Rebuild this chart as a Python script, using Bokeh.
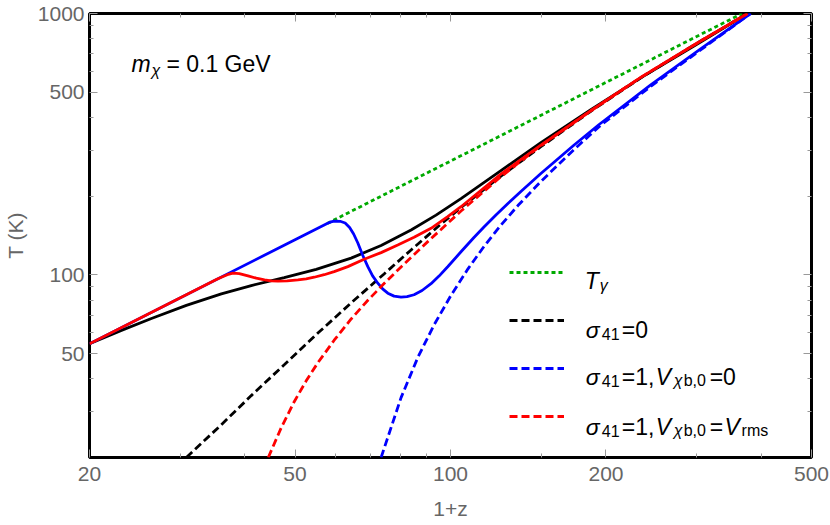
import math
from bokeh.plotting import figure
from bokeh.models import (FixedTicker, LogAxis, Label, Legend, LegendItem,
                          PrintfTickFormatter, Range1d)
from bokeh.embed import file_html
from bokeh.resources import INLINE

# ---------------- data ----------------
x_tgamma = [57.7, 367.0]
y_tgamma = [157.2, 1000.0]

# sigma41 = 0 : baryon (solid) and dark matter (dashed)
x_s0_b = [20, 23.06, 26.36, 30.80, 36.00, 41.14, 47.65, 54.95, 64.21, 73.39, 83.88, 93.75,
          104.79, 125.21, 149.62, 186.92, 233.54, 298.32, 376.0]
y_s0_b = [54.5, 61.3, 68.1, 76.4, 84.6, 91.0, 97.5, 105.0, 115.9, 129.4, 148.5, 169.3,
          195.8, 250.4, 320.3, 428.1, 567.2, 758.1, 1000]
x_s0_c = [30.80, 36.00, 41.14, 47.65, 55.44, 64.21, 74.37, 83.88, 95.86, 104.79, 125.21,
          149.62, 186.92, 233.54, 298.32, 376.0]
y_s0_c = [20.0, 26.7, 34.5, 45.3, 60.0, 78.1, 100.8, 124.5, 156.5, 180.9, 238.6,
          309.2, 422.5, 567.2, 764.8, 1000]

# sigma41 = 1, V_chi b,0 = 0
x_s1v0_b = [20, 57.70, 58.70, 59.53, 61.14, 62.52, 63.78, 64.93, 66.16, 67.58, 69.17, 70.66,
            72.32, 73.88, 75.61, 77.76, 80.22, 82.39, 85.00, 88.09, 91.69, 95.01, 98.76,
            104.79, 111.02, 116.09, 122.45, 129.18, 136.87, 149.62, 173.29, 193.70,
            244.17, 305.03, 381.1]
y_s1v0_b = [54.5, 157.2, 159.5, 160.6, 160.3, 157.9, 151.7, 143.3, 132.4, 119.1, 107.5, 99.1,
            92.9, 88.4, 85.1, 82.9, 82.1, 82.5, 83.9, 87.1, 92.5, 98.9, 107.4,
            122.5, 139.0, 152.4, 169.3, 187.4, 208.4, 244.1, 313.3, 375.2,
            533.4, 731.9, 1000]
x_s1v0_c = [73.39, 80.22, 86.53, 92.92, 100.23, 108.11, 116.09, 125.21, 135.06, 149.62,
            173.29, 195.43, 244.17, 305.03, 381.1]
y_s1v0_c = [20.0, 33.9, 48.5, 64.3, 83.5, 105.4, 128.3, 155.0, 184.1, 227.6,
            301.2, 373.6, 526.4, 725.5, 1000]

# sigma41 = 1, V_chi b,0 = V_rms
x_s1vr_b = [20, 35.21, 36.00, 36.97, 37.92, 39.00, 40.54, 42.07, 43.65, 44.97, 46.33, 48.29,
            50.65, 52.55, 54.46, 56.94, 59.53, 63.28, 68.04, 73.39, 79.05, 85.00, 91.69,
            98.76, 104.79, 125.21, 149.62, 186.92, 233.54, 298.32, 376.0]
y_s1vr_b = [54.5, 95.9, 97.9, 100.1, 101.5, 101.1, 99.1, 97.1, 95.6, 94.8, 94.6, 94.8,
            95.6, 96.5, 97.9, 100.1, 102.9, 107.5, 114.7, 121.6, 130.1, 139.2, 150.7,
            166.9, 182.2, 242.8, 313.3, 424.4, 569.7, 764.8, 1000]
x_s1vr_c = [44.38, 47.02, 49.82, 52.55, 55.44, 59.53, 64.21, 69.26, 74.37, 80.22, 90.47,
            104.79, 125.21, 149.62, 186.92, 233.54, 298.32, 376.0]
y_s1vr_c = [20.0, 26.0, 32.7, 39.3, 46.3, 56.2, 67.8, 80.1, 92.6, 107.2, 134.3,
            175.4, 237.4, 312.3, 424.4, 569.7, 764.8, 1000]

x_major = [20, 50, 100, 200, 500]
x_minor = [30, 40, 60, 70, 80, 90, 150, 300, 400]
y_major = [50, 100, 500, 1000]
y_minor = [30, 40, 60, 70, 80, 90, 200, 300, 400, 600, 700, 800, 900]

X0, X1, Y0, Y1 = 20, 500, 20, 1000

# ---------------- figure ----------------
FONT = "Liberation Sans"
p = figure(width=830, height=522, x_axis_type="log", y_axis_type="log",
           x_range=Range1d(X0, X1), y_range=Range1d(Y0, Y1),
           output_backend="svg", toolbar_location=None,
           min_border_left=88, min_border_right=19, min_border_top=13, min_border_bottom=64)
p.xgrid.visible = False
p.ygrid.visible = False
p.outline_line_color = "black"
p.outline_line_width = 3
p.outline_line_alpha = 1.0
p.background_fill_color = "white"


def style_axis(ax, major, minor, show):
    ax.ticker = FixedTicker(ticks=major, minor_ticks=minor)
    ax.formatter = PrintfTickFormatter(format="%d")
    ax.axis_line_color = None
    ax.major_tick_in = 8
    ax.major_tick_out = 0
    ax.minor_tick_in = 4
    ax.minor_tick_out = 0
    ax.major_tick_line_color = "#999999"
    ax.minor_tick_line_color = "#999999"
    ax.major_label_text_font = FONT
    if show:
        ax.major_label_text_color = "#666666"
        ax.major_label_text_font_size = "21px"
    else:
        ax.major_label_text_color = None
        ax.major_label_text_font_size = "1px"
        ax.major_label_standoff = 0


xa = p.xaxis[0]
ya = p.yaxis[0]
style_axis(xa, x_major, x_minor, True)
style_axis(ya, y_major, y_minor, True)
xa.major_label_standoff = 9
ya.major_label_standoff = 5
xa.axis_label = "1+z"
ya.axis_label = "T (K)"
for ax in (xa, ya):
    ax.axis_label_text_font = FONT
    ax.axis_label_text_font_size = "21px"
    ax.axis_label_text_font_style = "normal"
    ax.axis_label_text_color = "#666666"
xa.axis_label_standoff = 13
ya.axis_label_standoff = 8

top = LogAxis()
right = LogAxis()
style_axis(top, x_major, x_minor, False)
style_axis(right, y_major, y_minor, False)
p.add_layout(top, "above")
p.add_layout(right, "right")

# ---------------- curves ----------------
LW = 2.8
DASH = "8 4"
r_g = p.line(x_tgamma, y_tgamma, line_color="#00aa00", line_width=LW, line_dash="4 3")
p.line(x_s0_b, y_s0_b, line_color="black", line_width=LW)
r_k = p.line(x_s0_c, y_s0_c, line_color="black", line_width=LW, line_dash=DASH)
p.line(x_s1v0_b, y_s1v0_b, line_color="#0000ff", line_width=LW)
r_b = p.line(x_s1v0_c, y_s1v0_c, line_color="#0000ff", line_width=LW, line_dash=DASH)
p.line(x_s1vr_b, y_s1vr_b, line_color="#ff0000", line_width=LW)
r_r = p.line(x_s1vr_c, y_s1vr_c, line_color="#ff0000", line_width=LW, line_dash=DASH)

legend = Legend(items=[LegendItem(label=" ", renderers=[r]) for r in (r_g, r_k, r_b, r_r)],
                location=(420, 31), padding=0, margin=0, spacing=28,
                glyph_width=55, glyph_height=20, label_height=20, label_width=1,
                label_standoff=0, label_text_font_size="1px",
                border_line_alpha=0, background_fill_alpha=0)
p.add_layout(legend)

# ---------------- texts (positions given in canvas pixels) ----------------
FL, FT, FW, FH = 88.0, 13.0, 723.0, 445.0


def fx(px):
    return X0 * math.exp((px - FL) / FW * math.log(X1 / X0))


def fy(py):
    return Y1 * math.exp(-(py - FT) / FH * math.log(Y1 / Y0))


def put(px, py, s, size, italic=False):
    p.add_layout(Label(x=fx(px), y=fy(py), text=s, text_font=FONT,
                       text_font_size=f"{size}px",
                       text_font_style="italic" if italic else "normal",
                       text_color="black", text_baseline="alphabetic",
                       text_align="left"))


BIG, SUB = 23, 16
# m_chi label
put(130, 64, "m", BIG, True)
put(150, 70, "χ", SUB, True)
put(165, 64, "= 0.1 GeV", BIG)

# legend rows
put(584, 281, "T", BIG, True)
put(599, 286, "γ", SUB, True)

put(585, 330, "σ", BIG, True)
put(601, 334, "41", SUB)
put(621, 330, "=0", BIG)

put(585, 377, "σ", BIG, True)
put(601, 381, "41", SUB)
put(621, 377, "=1,", BIG)
put(655, 377, "V", BIG, True)
put(673, 381, "χ", SUB, True)
put(683, 381, "b,0", SUB)
put(709, 377, "=0", BIG)

put(585, 427, "σ", BIG, True)
put(601, 431, "41", SUB)
put(621, 427, "=1,", BIG)
put(655, 427, "V", BIG, True)
put(673, 431, "χ", SUB, True)
put(683, 431, "b,0", SUB)
put(709, 427, "=", BIG)
put(724, 427, "V", BIG, True)
put(741, 431, "rms", SUB)

open("out.html", "w").write(file_html(p, INLINE))
